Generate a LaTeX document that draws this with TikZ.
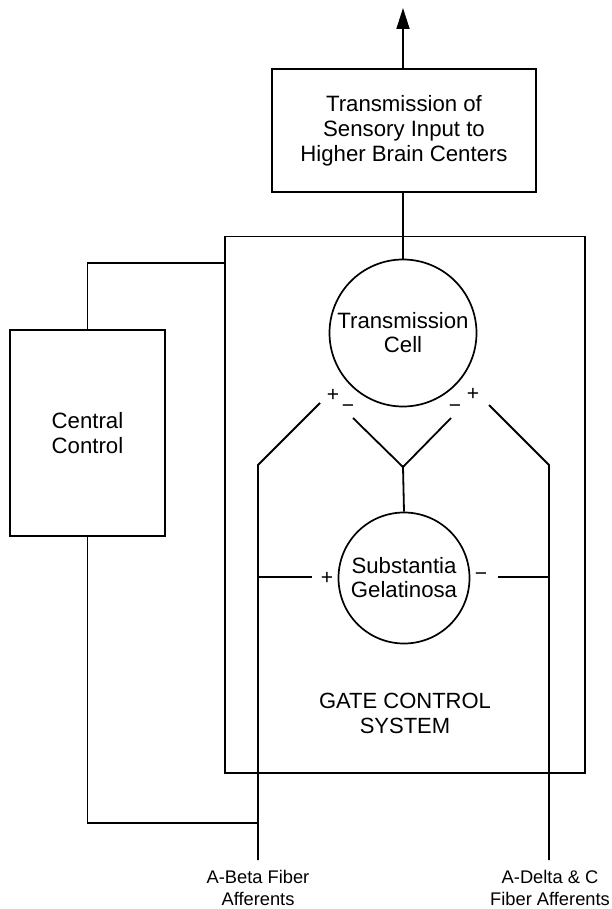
\documentclass[tikz,border=0pt]{standalone}
\usepackage{fontspec}
\setmainfont{Liberation Sans}
\usetikzlibrary{arrows.meta}
\begin{document}
\begin{tikzpicture}[x=1pt,y=-1pt,
  box/.style={draw,line width=1.3pt,rectangle,inner sep=0pt,align=center,font=\fontsize{22.2}{25}\selectfont},
  cell/.style={draw,line width=1.7pt,circle,inner sep=0pt,align=center,font=\fontsize{22.2}{24}\selectfont},
  wire/.style={line width=1.8pt,line join=miter},
  sign/.style={inner sep=0pt,font=\fontsize{21}{21}\selectfont},
  lbl/.style={inner sep=0pt,align=center,font=\fontsize{18.3}{22}\selectfont}]
\useasboundingbox (0,0) rectangle (611,909);
% nodes
\node[box,minimum width=264pt,minimum height=123pt] (top) at (404,130.5) {Transmission of\\Sensory Input to\\Higher Brain Centers};
\node[box,line width=1.2pt,minimum width=360pt,minimum height=536.5pt] (gate) at (405,504.75) {};
\node[inner sep=0pt,align=center,font=\fontsize{22}{25}\selectfont] (gatelbl) at (405,713) {GATE CONTROL\\SYSTEM};
\node[box,minimum width=155pt,minimum height=206pt] (cc) at (87.5,433) {Central\\Control};
\node[cell,minimum size=147pt] (tc) at (403,333) {Transmission\\Cell};
\node[cell,minimum size=131pt] (sg) at (404,578) {Substantia\\Gelatinosa};
% coordinates
\coordinate (arrowtip) at (403,8);
\coordinate (ccjoin) at (225,263);
\coordinate (abjoin) at (258,823);
\coordinate (abbot) at (258,860);
\coordinate (abknee) at (258,465);
\coordinate (abtip) at (320,403);
\coordinate (abh) at (258,577);
\coordinate (abhend) at (312,577);
\coordinate (yl) at (353,418);
\coordinate (yc) at (403,467);
\coordinate (yr) at (451,418);
\coordinate (adbot) at (549,860);
\coordinate (adknee) at (549,465);
\coordinate (adtip) at (489,405);
\coordinate (adh) at (549,577);
\coordinate (adhend) at (498,577);
% connectors
\draw[wire,-{Triangle[length=21pt,width=13pt]}] (top.north -| arrowtip) -- (arrowtip);
\draw[wire] (top.south -| tc.north) -- (tc.north);
\draw[wire] (cc.north) |- (ccjoin);
\draw[wire] (cc.south) |- (abjoin);
\draw[wire] (abbot) -- (abknee) -- (abtip);
\draw[wire] (abh) -- (abhend);
\draw[wire] (yl) -- (yc) -- (yr);
\draw[wire] (yc) -- (sg.north);
\draw[wire] (adbot) -- (adknee) -- (adtip);
\draw[wire] (adh) -- (adhend);
% signs
\node[sign] (p1) at (333,395) {+};
\node[sign] (m1) at (348,409) {−};
\node[sign] (m2) at (455,409) {−};
\node[sign] (p2) at (473,394) {+};
\node[sign] (p3) at (327,578) {+};
\node[sign] (m3) at (481,577) {−};
% labels
\node[lbl] (ablbl) at (258,888) {A-Beta Fiber\\Afferents};
\node[lbl] (adlbl) at (550,888) {A-Delta \& C\\Fiber Afferents};
\end{tikzpicture}
\end{document}
